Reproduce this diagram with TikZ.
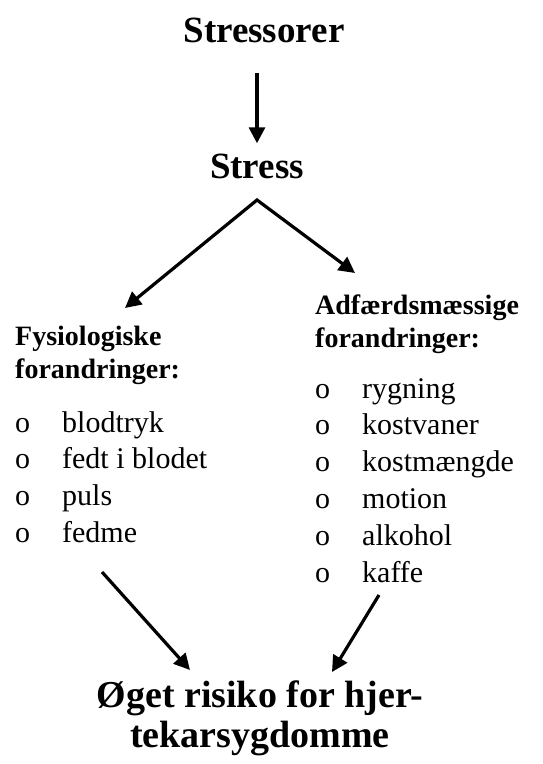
\documentclass[tikz,border=0pt]{standalone}
\usepackage{fontspec}
\setmainfont{Liberation Serif}
\usetikzlibrary{arrows.meta,calc,positioning}

\begin{document}
\begin{tikzpicture}[x=1pt,y=-1pt,
	bigtitle/.style={
		inner sep=0pt,
		anchor=base,
		align=center,
		font=\bfseries\fontsize{37}{40}\selectfont
	},
	subtitle/.style={
		inner sep=0pt,
		anchor=base west,
		align=left,
		font=\bfseries\fontsize{28}{33}\selectfont
	},
	listentry/.style={
		inner sep=0pt,
		anchor=base west,
		font=\fontsize{30}{36}\selectfont
	},
	pointer/.style={
		line width=3.2pt,
		-{Triangle[length=16pt,width=16pt]}
	}
]
	\useasboundingbox (0,0) rectangle (542,764);

	\node[bigtitle] (stressorer) at (264,42) {Stressorer};
	\node[bigtitle] (stress) at (257,178) {Stress};
	\draw[pointer,shorten <=30pt,shorten >=10pt] (stress.north |- stressorer.south) -- (stress.north);

	% split into the two kinds of changes
	\coordinate (apex) at ($(stress.base)+(0,22)$);
	\coordinate (fystip) at (125,308);
	\coordinate (adftip) at (355,273);
	\draw[line width=3.2pt,{Triangle[length=16pt,width=16pt]}-{Triangle[length=16pt,width=16pt]}]
		(fystip) -- (apex) -- (adftip);

	% base of a two-line node sits on its last line
	\node[subtitle] (fys) at (15,378) {Fysiologiske\\forandringer:};
	\node[subtitle] (adf) at (315,347) {Adfærdsmæssige\\forandringer:};

	\foreach \entry [count=\i] in {blodtryk,fedt i blodet,puls,fedme}
		\node[listentry] (fys\i) at (15,{432+36.7*(\i-1)}) {\makebox[47pt][l]{o}\entry};
	\foreach \entry [count=\i] in {rygning,kostvaner,kostmængde,motion,alkohol,kaffe}
		\node[listentry] (adf\i) at (315,{398+36.8*(\i-1)}) {\makebox[47pt][l]{o}\entry};

	\node[bigtitle,font=\bfseries\fontsize{38}{40}\selectfont] (risiko) at (260,747) {Øget risiko for hjer-\\tekarsygdomme};

	% into the risk
	\coordinate (fysend) at (102,572);
	\coordinate (adfend) at (379,595);
	\coordinate (risikol) at (190,670);
	\coordinate (risikor) at (332,672);
	\draw[pointer] (fysend) -- (risikol);
	\draw[pointer] (adfend) -- (risikor);
\end{tikzpicture}
\end{document}
